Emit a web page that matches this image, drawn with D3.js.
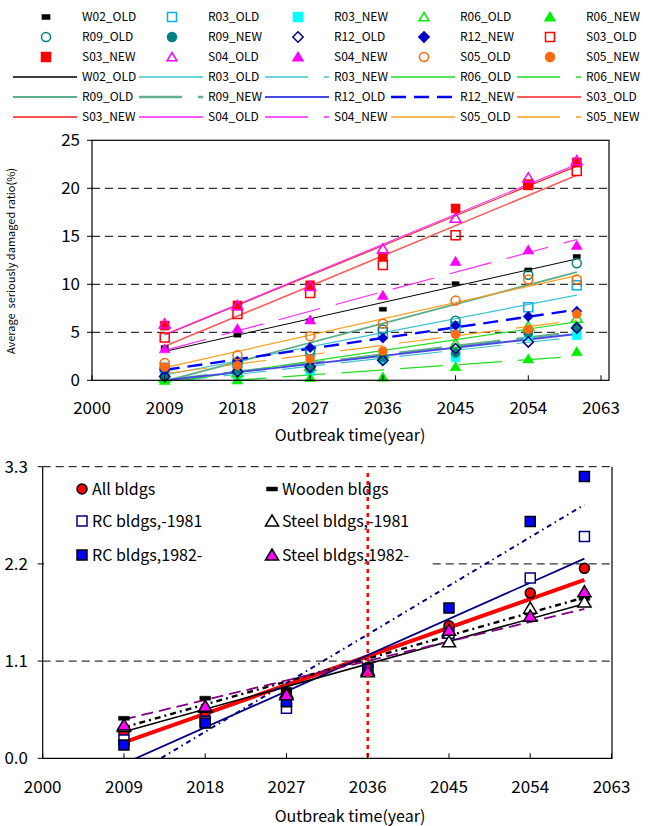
<!DOCTYPE html>
<html><head><meta charset="utf-8">
<script src="https://cdn.jsdelivr.net/npm/d3@7"></script>
<style>body{margin:0;background:#fff} text{font-family:"Noto Sans CJK JP","Noto Sans",sans-serif;fill:#000}</style>
</head><body><svg id="c" width="651" height="826"></svg>
<script>
// ---------------- DATA ----------------
const years = [2009, 2018, 2027, 2036, 2045, 2054, 2060];
const xTickYears = [2000, 2009, 2018, 2027, 2036, 2045, 2054, 2063];
const topYTicks = [0, 5, 10, 15, 20, 25];
const topGrid = [5, 10, 15, 20];
const botYTicks = [0, 1.1, 2.2, 3.3];
const botGrid = [1.1, 2.2, 3.3];

// Top chart: average seriously damaged ratio (%)
const topSeriesNames = ["W02_OLD","R03_OLD","R03_NEW","R06_OLD","R06_NEW","R09_OLD","R09_NEW","R12_OLD","R12_NEW","S03_OLD","S03_NEW","S04_OLD","S04_NEW","S05_OLD","S05_NEW"];
const W02_OLD = [3.4, 4.7, 6.2, 7.4, 10.07, 11.5, 12.9];
const R03_OLD = [1.3, 1.8, 3.0, 5.0, 5.6, 7.6, 9.9];
const R03_NEW = [0.3, 0.6, 1.0, 2.2, 2.4, 4.6, 4.7];
const R06_OLD = [0.3, 0.8, 1.5, 2.8, 3.8, 5.6, 6.5];
const R06_NEW = [0.0, 0.05, 0.3, 0.35, 1.45, 2.25, 3.0];
const R09_OLD = [1.2, 1.8, 3.1, 5.3, 6.2, 11.0, 12.2];
const R09_NEW = [0.5, 1.1, 1.2, 2.4, 2.85, 4.9, 5.5];
const R12_OLD = [0.4, 0.9, 1.4, 2.1, 3.3, 4.0, 5.45];
const R12_NEW = [1.1, 2.0, 3.4, 4.4, 5.7, 6.65, 7.2];
const S03_OLD = [4.45, 6.9, 9.1, 12.0, 15.1, 20.4, 21.8];
const S03_NEW = [5.7, 7.8, 9.9, 12.85, 17.9, 20.3, 22.7];
const S04_OLD = [5.9, 7.8, 9.8, 13.7, 16.9, 21.1, 22.9];
const S04_NEW = [3.3, 5.4, 6.3, 8.85, 12.4, 13.6, 14.06];
const S05_OLD = [1.8, 2.6, 4.6, 5.9, 8.3, 10.5, 10.5];
const S05_NEW = [1.35, 1.55, 2.25, 3.05, 4.8, 5.3, 6.9];
const topValues = {W02_OLD,R03_OLD,R03_NEW,R06_OLD,R06_NEW,R09_OLD,R09_NEW,R12_OLD,R12_NEW,S03_OLD,S03_NEW,S04_OLD,S04_NEW,S05_OLD,S05_NEW};

// Bottom chart
const botSeriesNames = ["All bldgs","Wooden bldgs","RC bldgs,-1981","Steel bldgs,-1981","RC bldgs,1982-","Steel bldgs,1982-"];
const allBldgs   = [0.29, 0.52, 0.74, 1.03, 1.50, 1.87, 2.15];
const woodBldgs  = [0.453, 0.68, 0.78, 1.05, 1.40, 1.65, 1.81];
const rcOld      = [0.207, 0.42, 0.565, 1.00, 1.415, 2.04, 2.51];
const steelOld   = [0.36, 0.58, 0.74, 1.00, 1.32, 1.70, 1.77];
const rcNew      = [0.15, 0.40, 0.64, 1.01, 1.70, 2.68, 3.19];
const steelNew   = [0.377, 0.59, 0.72, 0.98, 1.45, 1.61, 1.885];
const botValues = [allBldgs, woodBldgs, rcOld, steelOld, rcNew, steelNew];
// trend line values at first and last outbreak year
const botTrendStart = [0.18, 0.35, -0.06, 0.30, -0.25, 0.44];
const botTrendEnd   = [2.02, 1.82, 2.26, 1.75, 2.87, 1.69];
const markerYear = 2036;

// ---------------- STYLES ----------------
const LD = "43,16";
const topStyle = {
  W02_OLD:{shape:"dash",    col:"#000000", filled:true,  line:"#000000", lw:1,   dash:null},
  R03_OLD:{shape:"square",  col:"#00b0f0", filled:false, line:"#3cc3cf", lw:1.2, dash:null},
  R03_NEW:{shape:"square",  col:"#00ffff", filled:true,  line:"#3cc3cf", lw:1.2, dash:LD},
  R06_OLD:{shape:"triangle",col:"#00ee00", filled:false, line:"#22dd22", lw:1.2, dash:null},
  R06_NEW:{shape:"triangle",col:"#00ee00", filled:true,  line:"#22dd22", lw:1.2, dash:LD},
  R09_OLD:{shape:"circle",  col:"#008080", filled:false, line:"#5fae8c", lw:1.8, dash:null},
  R09_NEW:{shape:"circle",  col:"#008080", filled:true,  line:"#5fae8c", lw:2.4, dash:LD},
  R12_OLD:{shape:"diamond", col:"#000080", filled:false, line:"#4848e6", lw:1.8, dash:null},
  R12_NEW:{shape:"diamond", col:"#0000cc", filled:true,  line:"#0000ff", lw:2.4, dash:"15,8"},
  S03_OLD:{shape:"square",  col:"#ff0000", filled:false, line:"#ff5a5a", lw:1.6, dash:null},
  S03_NEW:{shape:"square",  col:"#ff0000", filled:true,  line:"#ff1a1a", lw:1.1, dash:null},
  S04_OLD:{shape:"triangle",col:"#ff00ff", filled:false, line:"#ff22ff", lw:1.1, dash:null},
  S04_NEW:{shape:"triangle",col:"#ff00ff", filled:true,  line:"#ff22ff", lw:1.1, dash:LD},
  S05_OLD:{shape:"circle",  col:"#ff6600", filled:false, line:"#ffa020", lw:1.2, dash:null},
  S05_NEW:{shape:"circle",  col:"#ff6a10", filled:true,  line:"#ffa020", lw:1.2, dash:LD}
};
const botStyle = [
  {shape:"circle",  fill:"#ff0000", stroke:"#000", line:"#ff0000", lw:4,   dash:null},
  {shape:"dash",    fill:"#000",    stroke:"#000", line:"#000000", lw:2.4, dash:"6,4,2,4"},
  {shape:"square",  fill:"#ffffff", stroke:"#000080", line:"#000080", lw:1.8, dash:null},
  {shape:"triangle",fill:"#ffffff", stroke:"#000", line:"#000000", lw:1.5, dash:null},
  {shape:"square",  fill:"#0000ff", stroke:"#000", line:"#000080", lw:2,   dash:"5,4,1.5,4"},
  {shape:"triangle",fill:"#ff00ff", stroke:"#000", line:"#800080", lw:1.8, dash:"12,6"}
];

// ---------------- HELPERS ----------------
const svg = d3.select("#c");
function markerPath(shape, s) {
  const h = s / 2;
  if (shape === "square") return `M${-h},${-h}h${s}v${s}h${-s}Z`;
  if (shape === "triangle") return `M0,${-h*1.0}L${h*1.1},${h*0.85}L${-h*1.1},${h*0.85}Z`;
  if (shape === "diamond") return `M0,${-h*1.15}L${h*1.15},0L0,${h*1.15}L${-h*1.15},0Z`;
  if (shape === "dash") return `M${-h*0.9},${-2}h${s*0.9}v4h${-s*0.9}Z`;
  return null;
}
function drawMarker(g, shape, cx, cy, s, fill, stroke, sw) {
  if (shape === "circle") {
    g.append("circle").attr("cx", cx).attr("cy", cy).attr("r", s / 2)
      .attr("fill", fill).attr("stroke", stroke).attr("stroke-width", sw);
  } else {
    g.append("path").attr("d", markerPath(shape, s)).attr("transform", `translate(${cx},${cy})`)
      .attr("fill", fill).attr("stroke", stroke).attr("stroke-width", sw);
  }
}
function linreg(xs, ys) {
  const n = xs.length, mx = d3.mean(xs), my = d3.mean(ys);
  let sxy = 0, sxx = 0;
  for (let i = 0; i < n; i++) { sxy += (xs[i]-mx)*(ys[i]-my); sxx += (xs[i]-mx)**2; }
  const b = sxy / sxx; return {b, a: my - b*mx};
}

// ---------------- TOP LEGEND ----------------
const legColX = [13, 139, 265, 391, 517];
const legRowY = [17, 37, 57, 77, 97, 117];
const legG = svg.append("g");
topSeriesNames.forEach((name, i) => {
  const st = topStyle[name];
  const col = i % 5, row = Math.floor(i / 5);
  const x0 = legColX[col];
  // marker entry
  const ym = legRowY[row];
  drawMarker(legG, st.shape, x0 + 33, ym, st.shape === "dash" ? 8 : 9, st.filled ? st.col : "#fff", st.col, 1.5);
  legG.append("text").attr("x", x0 + 69).attr("y", ym).attr("dy", "0.36em")
    .attr("font-size", 12).text(name);
  // trend-line entry
  const yl = legRowY[row + 3];
  legG.append("line").attr("x1", x0).attr("x2", x0 + 64).attr("y1", yl).attr("y2", yl)
    .attr("stroke", st.line).attr("stroke-width", st.lw + 0.3)
    .attr("stroke-dasharray", st.dash);
  legG.append("text").attr("x", x0 + 69).attr("y", yl).attr("dy", "0.36em")
    .attr("font-size", 12).text(name);
});

// ---------------- TOP CHART ----------------
const T = {l: 92, r: 609, t: 140.3, b: 380.3};
const xT = d3.scaleLinear().domain([2000, 2063]).range([92, 601]);
const yT = d3.scaleLinear().domain([0, 25]).range([T.b, T.t]);
const gT = svg.append("g");
gT.append("rect").attr("x", T.l).attr("y", T.t).attr("width", T.r - T.l).attr("height", T.b - T.t).attr("fill", "#fff");
gT.selectAll(".g").data(topGrid).join("line")
  .attr("x1", T.l).attr("x2", T.r).attr("y1", d => yT(d)).attr("y2", d => yT(d))
  .attr("stroke", "#000").attr("stroke-width", 1).attr("stroke-dasharray", "8,5");
svg.append("defs").append("clipPath").attr("id", "clipT").append("rect")
  .attr("x", T.l).attr("y", T.t).attr("width", T.r - T.l).attr("height", T.b - T.t);
const linesT = gT.append("g").attr("clip-path", "url(#clipT)");
topSeriesNames.forEach(name => {
  const st = topStyle[name];
  const {a, b} = linreg(years, topValues[name]);
  const x1 = years[0], x2 = years[years.length - 1];
  linesT.append("line").attr("x1", xT(x1)).attr("x2", xT(x2))
    .attr("y1", yT(a + b*x1)).attr("y2", yT(a + b*x2))
    .attr("stroke", st.line).attr("stroke-width", st.lw).attr("stroke-dasharray", st.dash);
});
topSeriesNames.forEach(name => {
  const st = topStyle[name];
  const sz = st.shape === "dash" ? 8 : st.shape === "triangle" ? 10 : 9;
  topValues[name].forEach((v, i) => {
    drawMarker(gT, st.shape, xT(years[i]), yT(v), sz, st.filled ? st.col : "none", st.col, st.filled ? 0.5 : 1.5);
  });
});
gT.append("rect").attr("x", T.l).attr("y", T.t).attr("width", T.r - T.l).attr("height", T.b - T.t)
  .attr("fill", "none").attr("stroke", "#000").attr("stroke-width", 1.2);
gT.selectAll(".yt").data(topYTicks).join("line")
  .attr("x1", T.l - 5).attr("x2", T.l).attr("y1", d => yT(d)).attr("y2", d => yT(d)).attr("stroke", "#000");
gT.selectAll(".yl").data(topYTicks).join("text")
  .attr("x", 80).attr("y", d => yT(d)).attr("dy", "0.36em").attr("text-anchor", "end")
  .attr("font-size", 17).text(d => d);
gT.selectAll(".xt").data(xTickYears).join("line")
  .attr("x1", d => xT(d)).attr("x2", d => xT(d)).attr("y1", T.b).attr("y2", T.b - 5).attr("stroke", "#000");
gT.selectAll(".xl").data(xTickYears).join("text")
  .attr("x", d => xT(d)).attr("y", 408).attr("dy", "0.36em").attr("text-anchor", "middle")
  .attr("font-size", 17).text(d => d);
gT.append("text").attr("x", 350).attr("y", 435).attr("dy", "0.36em").attr("text-anchor", "middle")
  .attr("font-size", 16).text("Outbreak time(year)");
gT.append("text").attr("transform", "translate(11,261) rotate(-90)").attr("dy", "0.36em")
  .attr("text-anchor", "middle").attr("font-size", 11).style("white-space", "pre")
  .text("Average  seriously damaged ratio(%)");

// ---------------- BOTTOM CHART ----------------
const B = {l: 42.7, r: 612, t: 466.7, b: 758.3};
const xB = d3.scaleLinear().domain([2000, 2063]).range([42.7, 611.5]);
const yB = d3.scaleLinear().domain([0, 3.3]).range([B.b, B.t]);
const gB = svg.append("g");
gB.selectAll(".g").data(botGrid).join("line")
  .attr("x1", B.l).attr("x2", B.r).attr("y1", d => yB(d)).attr("y2", d => yB(d))
  .attr("stroke", "#000").attr("stroke-width", 1).attr("stroke-dasharray", "8,5");
svg.select("defs").append("clipPath").attr("id", "clipB").append("rect")
  .attr("x", B.l).attr("y", B.t).attr("width", B.r - B.l).attr("height", B.b - B.t);
const linesB = gB.append("g").attr("clip-path", "url(#clipB)");
botStyle.forEach((st, k) => {
  const x1 = years[0], x2 = years[years.length - 1];
  linesB.append("line").attr("x1", xB(x1)).attr("x2", xB(x2))
    .attr("y1", yB(botTrendStart[k])).attr("y2", yB(botTrendEnd[k]))
    .attr("stroke", st.line).attr("stroke-width", st.lw).attr("stroke-dasharray", st.dash);
});
function botSize(shape){ return shape === "dash" ? 12 : shape === "circle" ? 10 : shape === "triangle" ? 12 : 10; }
botStyle.forEach((st, k) => {
  botValues[k].forEach((v, i) => {
    drawMarker(gB, st.shape, xB(years[i]), yB(v), botSize(st.shape), st.fill, st.stroke, st.shape === "dash" ? 0.5 : 1.5);
  });
});
// legend (white box)
const lg = gB.append("g");
lg.append("rect").attr("x", B.l + 1.5).attr("y", B.t + 1.5).attr("width", 385).attr("height", 106).attr("fill", "#fff");
const blegX = [82, 272], blegY = [489, 521, 555];
botSeriesNames.forEach((name, k) => {
  const st = botStyle[k];
  const cx = blegX[k % 2], cy = blegY[Math.floor(k / 2)];
  drawMarker(lg, st.shape, cx, cy, botSize(st.shape), st.fill, st.stroke, st.shape === "dash" ? 0.5 : 1.5);
  lg.append("text").attr("x", cx + 10).attr("y", cy).attr("dy", "0.36em").attr("font-size", 16).text(name);
});
// marker year line
gB.append("line").attr("x1", xB(markerYear)).attr("x2", xB(markerYear)).attr("y1", 473).attr("y2", B.b)
  .attr("stroke", "#ff0000").attr("stroke-width", 2.5).attr("stroke-dasharray", "4,4");
// borders
gB.append("path").attr("d", `M${B.l},${B.t}V${B.b}H${B.r}V${B.t}`).attr("fill", "none")
  .attr("stroke", "#000").attr("stroke-width", 1.2);
gB.selectAll(".yt").data(botYTicks).join("line")
  .attr("x1", B.l - 5).attr("x2", B.l).attr("y1", d => yB(d)).attr("y2", d => yB(d)).attr("stroke", "#000");
gB.selectAll(".yl").data(botYTicks).join("text")
  .attr("x", 28).attr("y", d => yB(d)).attr("dy", "0.36em").attr("text-anchor", "end")
  .attr("font-size", 17).text(d => d.toFixed(1));
gB.selectAll(".xt").data(xTickYears).join("line")
  .attr("x1", d => xB(d)).attr("x2", d => xB(d)).attr("y1", B.b).attr("y2", B.b - 5).attr("stroke", "#000");
gB.selectAll(".xl").data(xTickYears).join("text")
  .attr("x", d => xB(d)).attr("y", 787).attr("dy", "0.36em").attr("text-anchor", "middle")
  .attr("font-size", 17).text(d => d);
gB.append("text").attr("x", 350).attr("y", 816).attr("dy", "0.36em").attr("text-anchor", "middle")
  .attr("font-size", 16).text("Outbreak time(year)");
</script></body></html>
